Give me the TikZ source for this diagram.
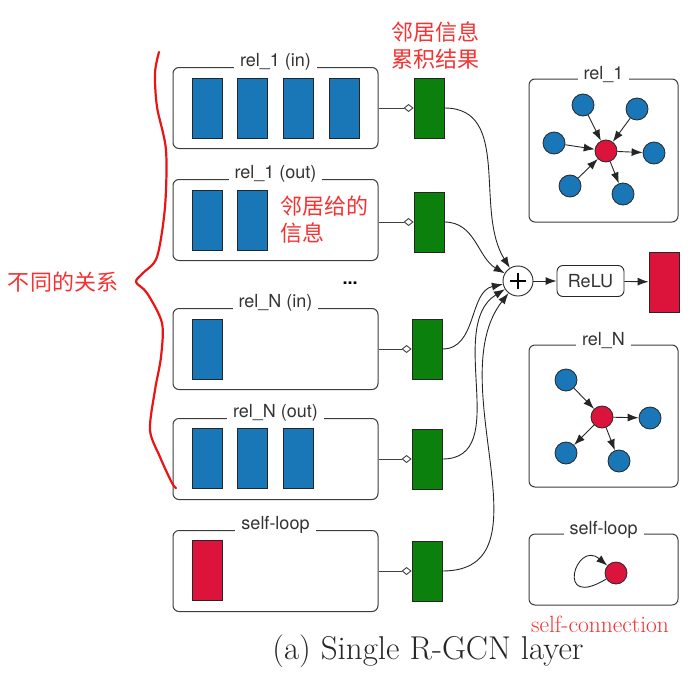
\documentclass[tikz,border=0pt]{standalone}
\usepackage{fontspec}
\newfontfamily\labelfont{TeX Gyre Heros}
\newfontfamily\cjk{Noto Sans CJK SC}
\usetikzlibrary{arrows.meta}
\definecolor{relblue}{RGB}{25,118,183}
\definecolor{relgreen}{RGB}{12,128,12}
\definecolor{relred}{RGB}{220,20,60}
\definecolor{notered}{RGB}{245,50,50}
\definecolor{bracered}{RGB}{235,20,20}
\definecolor{edgegray}{RGB}{60,60,60}
\tikzset{
  relbox/.style={draw=edgegray, line width=1pt, rounded corners=6pt, minimum width=205pt, minimum height=81pt},
  panel/.style={draw=edgegray, line width=1pt, rounded corners=6pt, minimum width=149pt},
  boxtitle/.style={fill=white, inner xsep=6pt, inner ysep=1pt, text=black!80, font=\labelfont\fontsize{18}{20}\selectfont},
  vec/.style={draw=black!85, line width=0.8pt, minimum width=30pt, minimum height=60pt, inner sep=0pt},
  msg/.style={vec, fill=relblue},
  selfvec/.style={vec, fill=relred},
  acc/.style={vec, fill=relgreen},
  ent/.style={circle, draw=black!85, line width=0.8pt, minimum size=22pt, inner sep=0pt, fill=relblue},
  tgt/.style={ent, fill=relred},
  note/.style={text=notered, font=\cjk\fontsize{22}{27}\selectfont},
  arr/.style={-{Latex[length=11pt,width=8pt]}, line width=0.9pt, draw=black!85},
  gather/.style={-{Diamond[open, length=10pt, width=8pt]}, line width=0.9pt, draw=black!75},
}
\begin{document}
\begin{tikzpicture}[x=1pt, y=1pt]
  \useasboundingbox (0,-677) rectangle (700,0);
  % Relacoes (caixas da esquerda)
  \node[relbox] (rin1)  at (275.5,-108) {};
  \node[relbox] (rout1) at (275.5,-220) {};
  \node[relbox] (rinN)  at (275.5,-349) {};
  \node[relbox] (routN) at (275.5,-459) {};
  \node[relbox] (rself) at (275.5,-571) {};
  \node[boxtitle] (trin1)  at ([yshift=5pt]rin1.north)  {rel\_1 (in)};
  \node[boxtitle] (trout1) at ([yshift=5pt]rout1.north) {rel\_1 (out)};
  \node[boxtitle] (trinN)  at ([yshift=5pt]rinN.north)  {rel\_N (in)};
  \node[boxtitle] (troutN) at ([yshift=5pt]routN.north) {rel\_N (out)};
  \node[boxtitle] (trself) at ([yshift=5pt]rself.north) {self-loop};
  % Mensagens
  \node[msg] (m11) at (207,-108) {};
  \node[msg] (m12) at (252,-108) {};
  \node[msg] (m13) at (298,-108) {};
  \node[msg] (m14) at (344,-108) {};
  \node[msg] (m21) at (207,-220) {};
  \node[msg] (m22) at (252,-220) {};
  \node[msg] (m31) at (207,-349) {};
  \node[msg] (m41) at (207,-458) {};
  \node[msg] (m42) at (252,-458) {};
  \node[msg] (m43) at (298,-458) {};
  \node[selfvec] (m51) at (207,-570) {};
  \node[font=\labelfont\bfseries\fontsize{18}{20}\selectfont] (dots) at (350,-283) {...};
  % Acumulados
  \node[acc] (g1) at (429,-108) {};
  \node[acc] (g2) at (429,-222) {};
  \node[acc] (g3) at (427,-349) {};
  \node[acc] (g4) at (427,-459) {};
  \node[acc] (g5) at (427,-571) {};
  \draw[gather] (rin1.east)  -- (g1.west);
  \draw[gather] (rout1.east |- g2.west) -- (g2.west);
  \draw[gather] (rinN.east)  -- (g3.west);
  \draw[gather] (routN.east) -- (g4.west);
  \draw[gather] (rself.east) -- (g5.west);
  % Soma, ReLU e saida
  \node[circle, draw=black!85, line width=0.9pt, minimum size=30pt, inner sep=0pt] (sum) at (518,-281) {};
  \draw[line width=1.1pt] ([xshift=-8pt]sum.center) -- ([xshift=8pt]sum.center);
  \draw[line width=1.1pt] ([yshift=-8pt]sum.center) -- ([yshift=8pt]sum.center);
  \node[draw=black!85, line width=0.9pt, rounded corners=6pt, minimum width=67pt, minimum height=31pt, font=\labelfont\fontsize{18}{20}\selectfont, text=black!80] (relu) at (590.5,-281) {ReLU};
  \node[selfvec] (out) at (664,-282) {};
  \draw[arr] (sum) -- (relu);
  \draw[arr] (relu) -- (out);
  \draw[arr] (g1.east) to[out=0, in=122] (sum);
  \draw[arr] (g2.east) to[out=0, in=150] (sum);
  \draw[arr] (g3.east) to[out=0, in=192] (sum);
  \draw[arr] (g4.east) to[out=0, in=212] (sum);
  \draw[arr] (g5.east) to[out=0, in=232] (sum);
  % Paineis da direita
  \node[panel, minimum height=143pt] (p1) at (603.5,-150.5) {};
  \node[panel, minimum height=142pt] (pN) at (603.5,-416) {};
  \node[panel, minimum height=71pt]  (pS) at (603.5,-569.5) {};
  \node[boxtitle] (tp1) at ([yshift=4pt]p1.north) {rel\_1};
  \node[boxtitle] (tpN) at ([yshift=4pt]pN.north) {rel\_N};
  \node[boxtitle] (tpS) at ([yshift=4pt]pS.north) {self-loop};
  % Grafo rel_1
  \node[tgt] (c1) at (606,-151) {};
  \node[ent] (a1) at (583,-105) {};
  \node[ent] (a2) at (637,-109) {};
  \node[ent] (a3) at (554,-143) {};
  \node[ent] (a4) at (654,-153) {};
  \node[ent] (a5) at (570,-186) {};
  \node[ent] (a6) at (623,-194) {};
  \draw[arr] (a1) -- (c1);
  \draw[arr] (a2) -- (c1);
  \draw[arr] (a3) -- (c1);
  \draw[arr] (a5) -- (c1);
  \draw[arr] (c1) -- (a4);
  \draw[arr] (c1) -- (a6);
  % Grafo rel_N
  \node[tgt] (cN) at (602,-417) {};
  \node[ent] (b1) at (566,-380) {};
  \node[ent] (b2) at (650,-418) {};
  \node[ent] (b3) at (566,-453) {};
  \node[ent] (b4) at (619,-461) {};
  \draw[arr] (b1) -- (cN);
  \draw[arr] (cN) -- (b2);
  \draw[arr] (cN) -- (b3);
  \draw[arr] (cN) -- (b4);
  % Self-loop
  \node[tgt] (cS) at (616,-573) {};
  \draw[arr] (cS) .. controls +(-62,-38) and +(-40,34) .. (cS);
  % Anotacoes
  \draw[bracered, line width=2.2pt, line cap=round] plot[smooth] coordinates {(159,-52) (155,-73) (157,-107) (166,-150) (165,-207) (157,-257) (143,-273) (136,-282) (147,-293) (162,-323) (161,-357) (155,-390) (150,-430) (160,-457) (172,-483) (176,-488)};
  \node[note] (nrel) at (63,-282) {不同的关系};
  \node[note, align=center] (nacc) at (435,-46) {邻居信息\\累积结果};
  \node[note, align=left, anchor=west] (nmsg) at (277,-220) {邻居给的\\信息};
  \node[text=notered, inner sep=0pt, font=\fontsize{23.5}{26}\selectfont] (nself) at (600,-624) {self-connection};
  \node[text=black!85, inner sep=0pt, font=\fontsize{33}{38}\selectfont] (cap) at (428,-651) {(a) Single R-GCN layer};
\end{tikzpicture}
\end{document}
